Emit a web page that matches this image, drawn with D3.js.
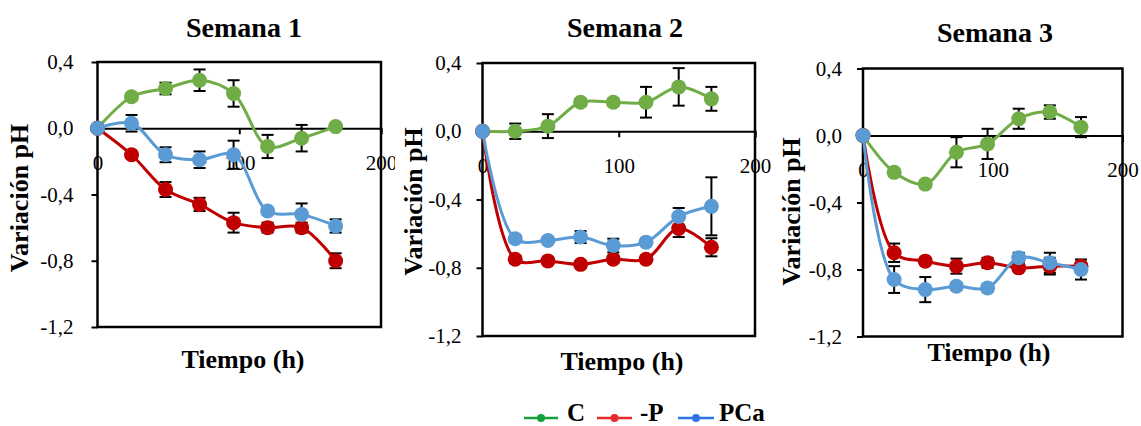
<!DOCTYPE html>
<html>
<head>
<meta charset="utf-8">
<script src="https://cdn.jsdelivr.net/npm/d3@7"></script>
<style>
  html, body { margin: 0; padding: 0; background: #fff; }
  svg { display: block; font-family: "Liberation Serif", "Times New Roman", serif; }
</style>
</head>
<body>
<svg id="chart" width="1141" height="426"></svg>
<script>
// ---- Data: pH change over time (hours) for three treatments, three weeks ----
const hours = [0, 24, 48, 72, 96, 120, 144, 168];
const seriesNames = ["C", "-P", "PCa"];
const weekTitles = ["Semana 1", "Semana 2", "Semana 3"];
const xTicks = [0, 100, 200];
const yTicks = [0.4, 0.0, -0.4, -0.8, -1.2];

// Week 1
const week1C      = [0, 0.19, 0.24, 0.29, 0.21, -0.11, -0.06, 0.01];
const week1CErr   = [0, 0.02, 0.035, 0.065, 0.08, 0.07, 0.08, 0.0];
const week1P      = [0, -0.16, -0.37, -0.46, -0.57, -0.60, -0.60, -0.80];
const week1PErr   = [0, 0.02, 0.045, 0.04, 0.06, 0.03, 0.03, 0.045];
const week1PCa    = [0, 0.03, -0.16, -0.19, -0.16, -0.50, -0.52, -0.59];
const week1PCaErr = [0, 0.05, 0.045, 0.05, 0.085, 0.02, 0.066, 0.04];

// Week 2
const week2C      = [0, 0.00, 0.03, 0.17, 0.17, 0.17, 0.26, 0.19];
const week2CErr   = [0, 0.045, 0.07, 0.02, 0.02, 0.09, 0.11, 0.07];
const week2P      = [0, -0.75, -0.76, -0.78, -0.75, -0.75, -0.57, -0.68];
const week2PErr   = [0, 0.02, 0.02, 0.02, 0.02, 0.02, 0.05, 0.053];
const week2PCa    = [0, -0.63, -0.64, -0.62, -0.67, -0.65, -0.50, -0.44];
const week2PCaErr = [0, 0.02, 0.02, 0.035, 0.04, 0.02, 0.05, 0.17];

// Week 3
const week3C      = [0, -0.22, -0.29, -0.10, -0.05, 0.10, 0.14, 0.05];
const week3CErr   = [0, 0.02, 0.02, 0.09, 0.09, 0.06, 0.04, 0.06];
const week3P      = [0, -0.70, -0.75, -0.78, -0.76, -0.79, -0.78, -0.78];
const week3PErr   = [0, 0.055, 0.02, 0.045, 0.03, 0.02, 0.05, 0.02];
const week3PCa    = [0, -0.86, -0.92, -0.90, -0.91, -0.73, -0.76, -0.80];
const week3PCaErr = [0, 0.08, 0.075, 0.02, 0.02, 0.03, 0.06, 0.06];

// ---- Styling ----
const lineColors   = ["#70AD47", "#C00000", "#5B9BD5"];
const legendColors = ["#17a03a", "#e42a2a", "#2f72e6"];

const weeks = [
  { values: [week1C, week1P, week1PCa], errors: [week1CErr, week1PErr, week1PCaErr] },
  { values: [week2C, week2P, week2PCa], errors: [week2CErr, week2PErr, week2PCaErr] },
  { values: [week3C, week3P, week3PCa], errors: [week3CErr, week3PErr, week3PCaErr] }
];

// Panel geometry
const panels = [
  { left: 97.5, right: 381,    top: 62,   bottom: 327,   clipX: 0,   clipW: 395,
    title: [244, 37], xTitle: [243, 367.5], yTitle: [28, 198],    yLabelOff: 24 },
  { left: 482.5, right: 755,   top: 63,   bottom: 336,   clipX: 395, clipW: 381,
    title: [625, 37], xTitle: [622, 369.5], yTitle: [422, 201.5], yLabelOff: 21 },
  { left: 863, right: 1122.5,  top: 68.5, bottom: 336.5, clipX: 776, clipW: 365,
    title: [995, 42], xTitle: [989, 361],   yTitle: [800, 211.5], yLabelOff: 21 }
];

const esLocale = d3.formatLocale({ decimal: ",", thousands: ".", grouping: [3], currency: ["", "€"], minus: "-" });
const fmtY = esLocale.format(".1f");
const serif = "'Liberation Serif', 'Times New Roman', serif";

const svg = d3.select("#chart");
svg.append("rect").attr("width", 1141).attr("height", 426).attr("fill", "#fff");

panels.forEach((p, wi) => {
  const g = svg.append("g");
  // white backing so each panel sits over its left neighbour
  g.append("rect").attr("x", p.clipX).attr("y", 0).attr("width", p.clipW).attr("height", 392).attr("fill", "#fff");

  const x = d3.scaleLinear().domain([0, 200]).range([p.left, p.right]);
  const y = d3.scaleLinear().domain([-1.2, 0.4]).range([p.bottom, p.top]);
  const y0 = y(0);

  // Title
  g.append("text").attr("x", p.title[0]).attr("y", p.title[1])
    .attr("text-anchor", "middle").attr("font-size", 28).attr("font-weight", "bold")
    .attr("font-family", serif).text(weekTitles[wi]);

  // Y axis (left) with outward ticks and comma decimals
  const yAxis = d3.axisLeft(y).tickValues(yTicks).tickSize(6).tickPadding(p.yLabelOff - 6).tickFormat(fmtY);
  const ya = g.append("g").attr("transform", `translate(${p.left},0)`).call(yAxis)
    .attr("font-family", serif);
  ya.select(".domain").remove();
  ya.selectAll(".tick line").attr("stroke", "#000").attr("stroke-width", 2);
  ya.selectAll(".tick text").attr("font-size", 21).attr("fill", "#000");

  // X axis along zero line
  const xAxis = d3.axisBottom(x).tickValues(xTicks).tickSize(6).tickPadding(21).tickFormat(d3.format("d"));
  const xa = g.append("g").attr("transform", `translate(0,${y0})`).call(xAxis)
    .attr("font-family", serif);
  xa.select(".domain").attr("stroke", "#000").attr("stroke-width", 2);
  xa.selectAll(".tick line").attr("stroke", "#000").attr("stroke-width", 2);
  xa.selectAll(".tick text").attr("font-size", 21).attr("fill", "#000");

  // Plot frame
  g.append("rect").attr("x", p.left).attr("y", p.top)
    .attr("width", p.right - p.left).attr("height", p.bottom - p.top)
    .attr("fill", "none").attr("stroke", "#000").attr("stroke-width", 2.5);

  // Axis titles
  g.append("text").attr("x", p.xTitle[0]).attr("y", p.xTitle[1])
    .attr("text-anchor", "middle").attr("font-size", 26).attr("font-weight", "bold")
    .attr("font-family", serif).text("Tiempo (h)");
  g.append("text").attr("transform", `translate(${p.yTitle[0]},${p.yTitle[1]}) rotate(-90)`)
    .attr("text-anchor", "middle").attr("font-size", 26).attr("font-weight", "bold")
    .attr("font-family", serif).text("Variación pH");

  const wk = weeks[wi];

  // Error bars (under the markers)
  const eb = g.append("g").attr("stroke", "#000").attr("stroke-width", 2);
  wk.values.forEach((vals, si) => {
    vals.forEach((v, i) => {
      const e = wk.errors[si][i];
      if (!e) return;
      const cx = x(hours[i]);
      eb.append("line").attr("x1", cx).attr("x2", cx).attr("y1", y(v + e)).attr("y2", y(v - e));
      eb.append("line").attr("x1", cx - 6).attr("x2", cx + 6).attr("y1", y(v + e)).attr("y2", y(v + e));
      eb.append("line").attr("x1", cx - 6).attr("x2", cx + 6).attr("y1", y(v - e)).attr("y2", y(v - e));
    });
  });

  // Smoothed lines and markers, drawn series by series
  const line = d3.line().x((d, i) => x(hours[i])).y(d => y(d)).curve(d3.curveCatmullRom.alpha(0.5));
  wk.values.forEach((vals, si) => {
    g.append("path").datum(vals).attr("d", line)
      .attr("fill", "none").attr("stroke", lineColors[si]).attr("stroke-width", 3);
    g.selectAll(null).data(vals).enter().append("circle")
      .attr("cx", (d, i) => x(hours[i])).attr("cy", d => y(d)).attr("r", 7.5)
      .attr("fill", lineColors[si]);
  });
});

// ---- Legend ----
const legendItems = [
  { x1: 524, x2: 558, tx: 567 },
  { x1: 597, x2: 632, tx: 640 },
  { x1: 678, x2: 714, tx: 719 }
];
const lg = svg.append("g");
seriesNames.forEach((name, i) => {
  const it = legendItems[i];
  lg.append("line").attr("x1", it.x1).attr("x2", it.x2).attr("y1", 418).attr("y2", 418)
    .attr("stroke", legendColors[i]).attr("stroke-width", 2.5);
  lg.append("circle").attr("cx", (it.x1 + it.x2) / 2).attr("cy", 418).attr("r", 4).attr("fill", legendColors[i]);
  lg.append("text").attr("x", it.tx).attr("y", 421).attr("font-size", 25).attr("font-weight", "bold")
    .attr("font-family", serif).text(name);
});
</script>
</body>
</html>
